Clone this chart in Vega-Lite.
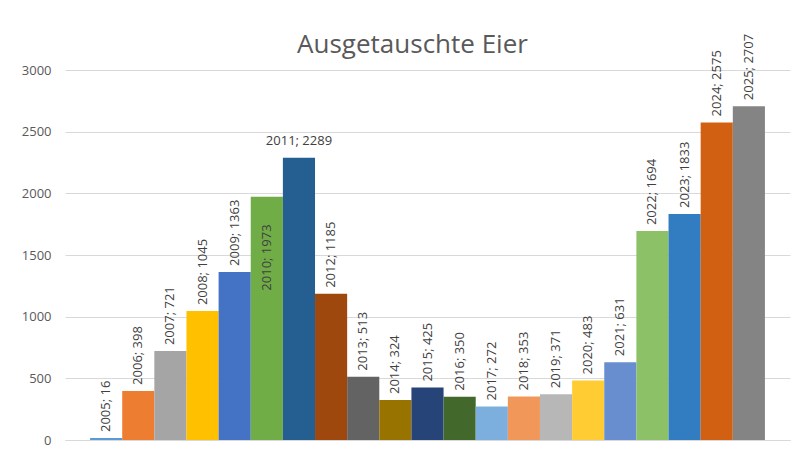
{
  "$schema": "https://vega.github.io/schema/vega-lite/v6.json",
  "autosize": {"type": "none"},
  "width": 725,
  "height": 370,
  "padding": {"left": 65, "top": 70, "right": 11, "bottom": 13},
  "background": "white",
  "title": {"text": "Ausgetauschte Eier", "font": "Open Sans", "fontSize": 26, "fontWeight": "normal", "color": "#595959", "anchor": "middle", "offset": 0, "dy": 24, "dx": -15},
  "config": {"view": {"stroke": null}, "font": "Open Sans"},
  "data": {"values": [
    {"jahr": "2005", "eier": 16, "farbe": "#5B9BD5"},
    {"jahr": "2006", "eier": 398, "farbe": "#ED7D31"},
    {"jahr": "2007", "eier": 721, "farbe": "#A5A5A5"},
    {"jahr": "2008", "eier": 1045, "farbe": "#FFC000"},
    {"jahr": "2009", "eier": 1363, "farbe": "#4472C4"},
    {"jahr": "2010", "eier": 1973, "farbe": "#70AD47"},
    {"jahr": "2011", "eier": 2289, "farbe": "#255E91"},
    {"jahr": "2012", "eier": 1185, "farbe": "#9E480E"},
    {"jahr": "2013", "eier": 513, "farbe": "#636363"},
    {"jahr": "2014", "eier": 324, "farbe": "#997300"},
    {"jahr": "2015", "eier": 425, "farbe": "#264478"},
    {"jahr": "2016", "eier": 350, "farbe": "#43682B"},
    {"jahr": "2017", "eier": 272, "farbe": "#7CAFDD"},
    {"jahr": "2018", "eier": 353, "farbe": "#F1975A"},
    {"jahr": "2019", "eier": 371, "farbe": "#B7B7B7"},
    {"jahr": "2020", "eier": 483, "farbe": "#FFCD33"},
    {"jahr": "2021", "eier": 631, "farbe": "#698ED0"},
    {"jahr": "2022", "eier": 1694, "farbe": "#8CC168"},
    {"jahr": "2023", "eier": 1833, "farbe": "#327DC2"},
    {"jahr": "2024", "eier": 2575, "farbe": "#D26012"},
    {"jahr": "2025", "eier": 2707, "farbe": "#848484"}
  ]},
  "transform": [{"calculate": "datum.jahr + '; ' + datum.eier", "as": "label"}],
  "encoding": {
    "x": {"field": "jahr", "type": "nominal", "sort": null, "title": null,
      "scale": {"paddingInner": 0, "paddingOuter": 0.78},
      "axis": {"labels": false, "ticks": false, "domainColor": "#d9d9d9"}},
    "y": {"field": "eier", "type": "quantitative", "title": null,
      "scale": {"domain": [0, 3000]},
      "axis": {"values": [0, 500, 1000, 1500, 2000, 2500, 3000], "format": "d", "domain": false, "ticks": false, "gridColor": "#d9d9d9", "labelColor": "#595959", "labelFontSize": 13, "labelPadding": 14}}
  },
  "layer": [
    {"mark": {"type": "bar"}, "encoding": {"color": {"field": "farbe", "type": "nominal", "scale": null}}},
    {"transform": [{"filter": "datum.jahr != '2010' && datum.jahr != '2011'"}],
      "mark": {"type": "text", "angle": 270, "align": "left", "baseline": "middle", "dx": 6, "fontSize": 13, "color": "#404040"},
      "encoding": {"text": {"field": "label"}}},
    {"transform": [{"filter": "datum.jahr == '2010'"}],
      "mark": {"type": "text", "angle": 270, "align": "left", "baseline": "middle", "dx": -94, "fontSize": 13, "color": "#404040"},
      "encoding": {"text": {"field": "label"}}},
    {"transform": [{"filter": "datum.jahr == '2011'"}],
      "mark": {"type": "text", "align": "center", "baseline": "bottom", "dy": -10, "fontSize": 13, "color": "#404040"},
      "encoding": {"text": {"field": "label"}}}
  ]
}
